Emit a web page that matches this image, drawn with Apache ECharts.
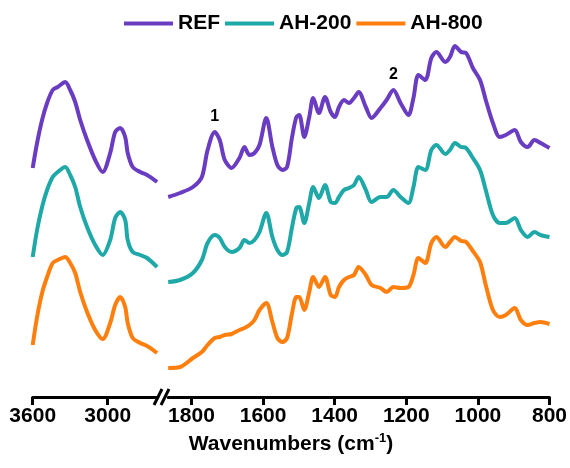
<!DOCTYPE html>
<html>
<head>
<meta charset="utf-8">
<script src="https://cdn.jsdelivr.net/npm/echarts@6/dist/echarts.min.js"></script>
<style>
html,body{margin:0;padding:0;background:#fff;}
#main{width:570px;height:468px;}
</style>
</head>
<body>
<div id="main"></div>
<script>
// high wavenumber part (cm-1)
var wnHigh = [3600,3565,3525,3485,3440,3400,3340,3300,3260,3220,3165,3100,3040,2980,2940,2900,2860,2840,2800,2740,2685,2605];
var refHigh = [229,254,277,294,307,310,315,307,295,277,257,237,225,244,265,269,260,244,230,225,222,215];
var ah200High = [140,167,190,207,220,225,230,222,210,190,170,152,142,157,179,185,177,157,145,142,139,130];
var ah800High = [52,80,104,120,134,137,140,134,124,105,85,67,58,74,92,100,90,74,59,54,51,44];

// fingerprint part
var wnLow = [1865,1832,1796,1771,1755,1735,1721,1707,1688,1666,
	1652,1638,1624,1610,1591,1574,1560,1546,1533,1519,
	1507,1499,1485,1471,1460,1444,1427,1411,1399,1388,
	1374,1360,1346,1333,1313,1297,1272,1255,1236,1216,
	1194,1180,1166,1147,1130,1116,1091,1078,1064,1047,
	1033,1014,994,978,958,939,922,897,880,861,
	842,825,800];
var refLow = [200,204,210,220,247,265,257,237,229,239,
	250,242,244,252,279,250,232,227,230,260,
	280,282,260,280,299,284,300,285,280,290,
	297,294,299,305,290,279,289,297,307,294,
	282,299,322,317,339,345,335,340,351,345,
	344,329,317,297,274,260,262,267,255,250,
	257,254,249];
var ah200Low = [115,117,124,137,154,162,159,150,145,149,
	157,154,157,165,184,160,147,142,145,170,
	189,190,174,194,210,199,212,195,194,200,
	207,209,212,220,207,195,200,200,207,200,
	194,210,230,227,247,252,243,247,254,250,
	249,239,227,207,182,174,174,179,167,160,
	165,162,160];
var ah800Low = [29,30,39,45,52,59,60,62,63,67,
	69,72,77,87,94,75,59,55,59,84,
	100,100,87,105,120,110,120,102,100,110,
	117,120,122,130,122,112,109,105,110,109,
	110,122,139,134,154,160,150,155,160,156,
	155,146,135,112,87,80,82,89,77,72,
	74,75,73];

var tickHigh = [3600, 3000];
var tickLow = [1800, 1600, 1400, 1200, 1000, 800];
var names = ['REF', 'AH-200', 'AH-800'];
var colors = ['#6a3cc2', '#1fa8a8', '#ff7f0e'];
// peak marks: [label, wavenumber, value]
var peaks = [['1', 1735, 265], ['2', 1236, 307]];

var font = 'Arial, "Liberation Sans", sans-serif';

function pairs(x, y){
	var out = [];
	for(var i=0;i<x.length;i++){
		out.push([x[i], y[i]]);
	}
	return out;
};

function xAxisOf(grid, min, max, ticks){
	return {
		type:'value', gridIndex:grid, min:min, max:max, inverse:true,
		splitLine:{show:false},
		axisLine:{show:true, lineStyle:{color:'#000', width:3}},
		axisTick:{show:true, length:8, lineStyle:{color:'#000', width:3}, customValues:ticks},
		axisLabel:{color:'#000', fontSize:21, fontWeight:'bold', fontFamily:font, margin:9,
			customValues:ticks, formatter:function(v){return String(v);}}
	};
};

function yAxisOf(grid){
	return {type:'value', gridIndex:grid, min:0, max:360, show:false};
};

var highSets = [refHigh, ah200High, ah800High];
var lowSets = [refLow, ah200Low, ah800Low];
var series = [];
for(var i=0;i<3;i++){
	series.push({
		name:names[i], type:'line', xAxisIndex:0, yAxisIndex:0,
		data:pairs(wnHigh, highSets[i]), symbol:'none', smooth:0.3,
		lineStyle:{color:colors[i], width:4}, itemStyle:{color:colors[i]}
	});
	series.push({
		name:names[i], type:'line', xAxisIndex:1, yAxisIndex:1,
		data:pairs(wnLow, lowSets[i]), symbol:'none', smooth:0.3,
		lineStyle:{color:colors[i], width:4}, itemStyle:{color:colors[i]}
	});
}

var myChart = echarts.init(document.getElementById('main'));
var option = {
	backgroundColor:'#fff',
	animation:false,
	legend:{
		data:names, left:119, top:8, icon:'rect', itemWidth:49, itemHeight:4, itemGap:5,
		textStyle:{color:'#000', fontSize:21, fontWeight:'bold', fontFamily:font}
	},
	grid:[
		{left:32.7, width:125, top:37, height:360},
		{left:168.2, width:383.8, top:37, height:360}
	],
	xAxis:[
		xAxisOf(0, 2600, 3600, tickHigh),
		xAxisOf(1, 800, 1865, tickLow)
	],
	yAxis:[yAxisOf(0), yAxisOf(1)],
	series:series,
	graphic:[
		//axis break
		{type:'line', shape:{x1:154, y1:405, x2:162, y2:389}, style:{stroke:'#000', lineWidth:3}},
		{type:'line', shape:{x1:161, y1:405, x2:169, y2:389}, style:{stroke:'#000', lineWidth:3}},
		{type:'text', x:291, y:444, style:{
			text:'{a|Wavenumbers (cm}{s|-1}{a|)}', align:'center', verticalAlign:'middle',
			rich:{
				a:{fontSize:21, fontWeight:'bold', fontFamily:font, fill:'#000', lineHeight:24},
				s:{fontSize:13, fontWeight:'bold', fontFamily:font, fill:'#000', verticalAlign:'top', lineHeight:24}
			}
		}}
	]
};
myChart.setOption(option);

//peak labels above REF
var marks = [];
for(var k=0;k<peaks.length;k++){
	var p = myChart.convertToPixel({gridIndex:1}, [peaks[k][1], peaks[k][2]]);
	marks.push({type:'text', id:'peak'+k, x:p[0], y:p[1]-15, style:{
		text:peaks[k][0], align:'center', verticalAlign:'middle',
		fontSize:16, fontWeight:'bold', fontFamily:font, fill:'#000'
	}});
}
myChart.setOption({graphic:marks});
</script>
</body>
</html>
